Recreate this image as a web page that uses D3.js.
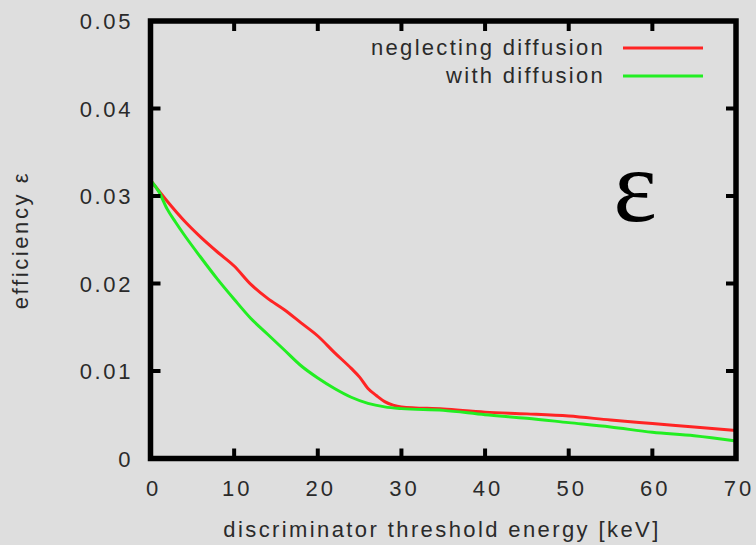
<!DOCTYPE html>
<html>
<head>
<meta charset="UTF-8">
<title>efficiency vs threshold</title>
<script src="https://cdnjs.cloudflare.com/ajax/libs/d3/7.8.5/d3.min.js"></script>
<style>
  body { margin: 0; background: #dedede; }
  text { font-family: "Liberation Sans", Arial, sans-serif; fill: #2a2a2a; }
</style>
</head>
<body>
<script>
// threshold energy [keV]
var energyRed   = [0, 2, 4, 6, 8, 10, 12, 14, 16, 18, 20, 22, 24, 25, 26, 27, 28, 29, 30, 35, 40, 45, 50, 55, 60, 65, 70];
var effRed      = [0.0318, 0.0294, 0.0272, 0.0253, 0.0236, 0.0220, 0.0199, 0.0183, 0.0170, 0.0155, 0.0140, 0.0121, 0.0103, 0.0093, 0.0080, 0.0072, 0.0065, 0.0061, 0.0059, 0.00565, 0.0053, 0.0051, 0.00485, 0.0044, 0.0040, 0.0036, 0.0032];
var energyGreen = [0, 1, 2, 3, 4, 6, 8, 10, 12, 14, 16, 18, 20, 22, 24, 26, 28, 30, 35, 40, 45, 50, 55, 60, 65, 70];
var effGreen    = [0.0318, 0.0305, 0.0285, 0.0270, 0.0256, 0.0230, 0.0205, 0.0182, 0.0160, 0.0142, 0.0124, 0.0106, 0.0092, 0.0080, 0.0070, 0.0063, 0.0059, 0.0057, 0.0055, 0.0050, 0.0046, 0.0041, 0.0036, 0.0030, 0.0026, 0.0020];
var seriesNames = ["neglecting diffusion", "with diffusion"];
var xTicks = [0, 10, 20, 30, 40, 50, 60, 70];
var yTicks = [0, 0.01, 0.02, 0.03, 0.04, 0.05];

var width = 756, height = 545;
var plotL = 150.5, plotR = 736, plotT = 21, plotB = 458.5;

var svg = d3.select("body").append("svg")
    .attr("width", width)
    .attr("height", height);

var x = d3.scaleLinear().domain([0, 70]).range([plotL, plotR]);
var y = d3.scaleLinear().domain([0, 0.05]).range([plotB, plotT]);

// curves first, frame on top
var line = d3.line()
    .x(function(d){ return x(d[0]); })
    .y(function(d){ return y(d[1]); })
    .curve(d3.curveMonotoneX);
var series = [
  { name: seriesNames[0], color: "#ff2424", pts: d3.zip(energyRed, effRed) },
  { name: seriesNames[1], color: "#22ee22", pts: d3.zip(energyGreen, effGreen) }
];
series.forEach(function(s){
  svg.append("path")
    .attr("d", line(s.pts))
    .attr("fill", "none")
    .attr("stroke", s.color)
    .attr("stroke-width", 3)
    .attr("stroke-linejoin", "round");
});

// ticks, all inward, mirrored
var tickLen = 10;
var tk = svg.append("g").attr("stroke", "#000").attr("stroke-width", 4);
xTicks.slice(1, -1).forEach(function(t){
  tk.append("line").attr("x1", x(t)).attr("x2", x(t)).attr("y1", plotB).attr("y2", plotB - tickLen);
  tk.append("line").attr("x1", x(t)).attr("x2", x(t)).attr("y1", plotT).attr("y2", plotT + tickLen);
});
yTicks.slice(1, -1).forEach(function(t){
  tk.append("line").attr("x1", plotL).attr("x2", plotL + tickLen).attr("y1", y(t)).attr("y2", y(t));
  tk.append("line").attr("x1", plotR).attr("x2", plotR - tickLen).attr("y1", y(t)).attr("y2", y(t));
});

svg.append("rect")
  .attr("x", plotL).attr("y", plotT)
  .attr("width", plotR - plotL).attr("height", plotB - plotT)
  .attr("fill", "none").attr("stroke", "#000").attr("stroke-width", 5.5);

// tick labels
svg.selectAll(".xl").data(xTicks).enter().append("text")
  .attr("x", function(d){ return x(d) + 3; })
  .attr("y", 496)
  .attr("text-anchor", "middle")
  .attr("font-size", 22)
  .attr("letter-spacing", 3)
  .text(function(d){ return d; });

svg.selectAll(".yl").data(yTicks).enter().append("text")
  .attr("x", 133)
  .attr("y", function(d){ return y(d) + 8; })
  .attr("text-anchor", "end")
  .attr("font-size", 22)
  .attr("letter-spacing", 2.6)
  .text(function(d){ return d === 0 ? "0" : d.toFixed(2); });

// axis titles
svg.append("text")
  .attr("x", 442).attr("y", 537)
  .attr("text-anchor", "middle")
  .attr("font-size", 22)
  .attr("letter-spacing", 2.4)
  .text("discriminator threshold energy [keV]");

svg.append("text")
  .attr("transform", "translate(28,240) rotate(-90)")
  .attr("text-anchor", "middle")
  .attr("font-size", 22)
  .attr("letter-spacing", 2.6)
  .text("efficiency ε");

// legend
series.forEach(function(s, i){
  var ly = 48 + i * 28;
  svg.append("text")
    .attr("x", 605).attr("y", ly + 7)
    .attr("text-anchor", "end")
    .attr("font-size", 22)
    .attr("letter-spacing", 2.3)
    .text(s.name);
  svg.append("line")
    .attr("x1", 623).attr("x2", 703)
    .attr("y1", ly).attr("y2", ly)
    .attr("stroke", s.color).attr("stroke-width", 3);
});

// big epsilon label
svg.append("text")
  .attr("x", 635).attr("y", 221)
  .attr("text-anchor", "middle")
  .attr("font-size", 104)
  .style("font-family", "'Liberation Serif', serif")
  .style("fill", "#000")
  .text("ε");
</script>
</body>
</html>
